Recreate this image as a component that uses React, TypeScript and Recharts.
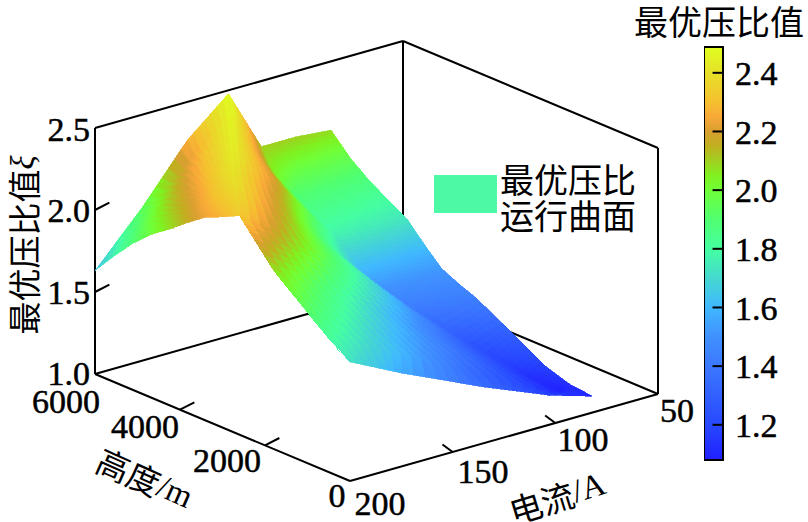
import { ReferenceArea, ReferenceDot, ReferenceLine, Scatter, ScatterChart, XAxis, YAxis } from "recharts"

// altitude rows (m), back to front
const heights = [6000, 5550, 5100, 4650, 4200, 3800, 3400, 3000, 2600, 1800, 1000, 500, 0]
// current (A) at each surface node, one row per altitude; column 3 is the crest, column 6 the trough
const currents = [
  [200, 177, 155, 135, 127, 119, 102, 85],
  [200, 180, 161, 143, 133, 125, 112, 85],
  [200, 183, 167, 152, 140, 130, 122, 85],
  [200, 187, 174, 161, 145, 133, 122, 85],
  [200, 190, 180, 170, 150, 137, 122, 85],
  [200, 193, 185, 178, 155, 139, 120, 85],
  [200, 195, 190, 185, 160, 140, 117, 85],
  [200, 197, 195, 192, 163, 138, 112, 85],
  [200, 200, 200, 200, 165, 137, 107, 85],
  [200, 200, 200, 200, 165, 130, 97, 84],
  [200, 200, 200, 200, 165, 130, 90, 84],
  [200, 200, 200, 200, 165, 130, 86, 83],
  [200, 200, 200, 200, 175, 135, 103, 82],
]
// optimal pressure ratio at the same nodes
const ratios = [
  [1.63, 1.935, 2.268, 2.48, 2.29, 2.1, 2.1, 2.08],
  [1.768, 2.01, 2.25, 2.47, 2.26, 2.07, 1.98, 1.96],
  [1.896, 2.1, 2.29, 2.46, 2.24, 2.04, 1.9, 1.87],
  [2.0, 2.15, 2.3, 2.45, 2.22, 2.02, 1.84, 1.8],
  [2.083, 2.2, 2.32, 2.44, 2.2, 2.0, 1.78, 1.73],
  [2.165, 2.25, 2.34, 2.42, 2.15, 1.92, 1.65, 1.62],
  [2.238, 2.29, 2.35, 2.4, 2.12, 1.85, 1.52, 1.52],
  [2.284, 2.31, 2.34, 2.37, 2.07, 1.78, 1.44, 1.47],
  [2.335, 2.335, 2.335, 2.335, 2.02, 1.72, 1.36, 1.43],
  [2.09, 2.09, 2.09, 2.09, 1.8, 1.5, 1.22, 1.3],
  [1.918, 1.918, 1.918, 1.918, 1.66, 1.42, 1.12, 1.18],
  [1.815, 1.815, 1.815, 1.815, 1.6, 1.35, 1.08, 1.125],
  [1.726, 1.726, 1.726, 1.726, 1.57, 1.344, 1.18, 1.1],
]

const colorLevels = [1.08, 1.2, 1.4, 1.5, 1.6, 1.7, 1.8, 1.9, 2.0, 2.05, 2.1, 2.15, 2.2, 2.25, 2.3, 2.4, 2.488]
const colorStops = [
  "#2020ff", "#2848ff", "#3b78ff", "#4090ff", "#40b8ff", "#45d8d0", "#45ffa0", "#50ff70", "#70ff38",
  "#80f020", "#a0d020", "#c0b020", "#d8a030", "#f8a838", "#f5c030", "#e6e028", "#e0ff20",
]
const barTicks = [1.2, 1.4, 1.6, 1.8, 2.0, 2.2, 2.4]
const ratioTicks = [1.5, 2.0]
const heightTicks = [2000, 4000]
const currentTicks = [100, 150]

const SERIF = "'Liberation Serif', serif"
const CJK = "'Noto Sans CJK SC', sans-serif"
const CELLS = 7

// oblique view of the box: front corner is 200 A, 0 m, ratio 1
function project(current: number, height: number, ratio: number) {
  const t = (200 - current) / 150
  const f = height / 6000
  return {
    x: 350 + 308 * t - 255 * f,
    y: 481 - 87 * t - 107 * f - 164 * (ratio - 1),
  }
}

function colorFor(v: number) {
  const hex = (s: string) => [1, 3, 5].map((i) => parseInt(s.slice(i, i + 2), 16))
  let i = 0
  while (i < colorLevels.length - 2 && v > colorLevels[i + 1]) i++
  const k = Math.min(1, Math.max(0, (v - colorLevels[i]) / (colorLevels[i + 1] - colorLevels[i])))
  const a = hex(colorStops[i])
  const b = hex(colorStops[i + 1])
  return `rgb(${a.map((c, n) => Math.round(c + (b[n] - c) * k)).join(",")})`
}

function buildPatches() {
  const patches: any[] = []
  const at = (r: number, c: number, u: number, v: number) => {
    const mix = (m: number[][]) =>
      (m[r][c] * (1 - u) + m[r][c + 1] * u) * (1 - v) + (m[r + 1][c] * (1 - u) + m[r + 1][c + 1] * u) * v
    const h = heights[r] * (1 - v) + heights[r + 1] * v
    return { current: mix(currents), height: h, ratio: mix(ratios) }
  }
  for (let r = 0; r < heights.length - 1; r++) {
    for (let c = 0; c < currents[0].length - 1; c++) {
      for (let i = 0; i < CELLS; i++) {
        for (let j = 0; j < CELLS; j++) {
          const nodes = [
            at(r, c, i / CELLS, j / CELLS),
            at(r, c, (i + 1) / CELLS, j / CELLS),
            at(r, c, (i + 1) / CELLS, (j + 1) / CELLS),
            at(r, c, i / CELLS, (j + 1) / CELLS),
          ]
          const corners = nodes.map((n) => project(n.current, n.height, n.ratio))
          const ratio = nodes.reduce((s, n) => s + n.ratio, 0) / 4
          const depth = nodes.reduce((s, n) => s + (200 - n.current) / 150 + n.height / 6000, 0)
          patches.push({ x: corners[0].x, y: corners[0].y, corners, color: colorFor(ratio), depth })
        }
      }
    }
  }
  return patches.sort((a, b) => b.depth - a.depth)
}

function SurfacePatch(props: any) {
  const { cx, cy, payload } = props
  const points = payload.corners.map((c: any) => `${c.x - payload.x + cx},${c.y - payload.y + cy}`).join(" ")
  return <polygon points={points} fill={payload.color} stroke={payload.color} strokeWidth={0.7} shapeRendering="crispEdges" />
}

function edge(a: { x: number; y: number }, b: { x: number; y: number }, key: string) {
  return <ReferenceLine key={key} segment={[a, b]} stroke="#000" strokeWidth={2} ifOverflow="visible" />
}

function label(text: any, x: number, y: number, opts: any = {}) {
  const { anchor = "middle", font = SERIF, size = 34, angle = 0 } = opts
  return (
    <ReferenceDot
      key={`${x}-${y}`}
      x={x}
      y={y}
      r={0}
      ifOverflow="visible"
      shape={(p: any) => (
        <text
          x={p.cx}
          y={p.cy}
          textAnchor={anchor}
          dominantBaseline="central"
          fontFamily={font}
          fontSize={size}
          fill="#000"
          stroke="#000"
          strokeWidth={font === SERIF ? 0.5 : 0}
          transform={angle ? `rotate(${angle} ${p.cx} ${p.cy})` : undefined}
        >
          {text}
        </text>
      )}
    />
  )
}

function Surface3D() {
  const back = [
    edge(project(200, 6000, 1), project(50, 6000, 1), "b1"),
    edge(project(50, 6000, 1), project(50, 0, 1), "b2"),
    edge(project(50, 6000, 1), project(50, 6000, 2.5), "b3"),
    edge(project(200, 6000, 2.5), project(50, 6000, 2.5), "b4"),
    edge(project(50, 6000, 2.5), project(50, 0, 2.5), "b5"),
    edge(project(50, 0, 1), project(50, 0, 2.5), "b6"),
  ]
  const front = [
    edge(project(200, 6000, 1), project(200, 6000, 2.5), "f1"),
    edge(project(200, 6000, 1), project(200, 0, 1), "f2"),
    edge(project(200, 0, 1), project(50, 0, 1), "f3"),
    ...ratioTicks.map((v) => edge(project(200, 6000, v), project(193, 6000, v + 0.02), `rt${v}`)),
    ...heightTicks.map((v) => edge(project(200, v, 1), project(193, v, 1.02), `ht${v}`)),
    ...currentTicks.map((v) => edge(project(v, 0, 1), project(v, 240, 1.02), `ct${v}`)),
    edge({ x: 551, y: 394 }, { x: 560, y: 394 }, "dash"),
  ]
  return (
    <ScatterChart width={808} height={522} margin={{ top: 0, right: 0, bottom: 0, left: 0 }}>
      <XAxis type="number" dataKey="x" domain={[0, 808]} hide />
      <YAxis type="number" dataKey="y" domain={[0, 522]} reversed hide />
      {back}
      <Scatter data={buildPatches()} shape={SurfacePatch} isAnimationActive={false} />
      {front}
      {label("2.5", 90, 129, { anchor: "end" })}
      {label("2.0", 90, 210, { anchor: "end" })}
      {label("1.5", 90, 292, { anchor: "end" })}
      {label("1.0", 90, 373, { anchor: "end" })}
      {label("6000", 66, 401)}
      {label("4000", 145, 426)}
      {label("2000", 227, 460)}
      {label("0", 337, 495)}
      {label("200", 380, 503)}
      {label("150", 483, 471)}
      {label("100", 583, 439)}
      {label("50", 677, 410)}
      {label(<>高度<tspan fontFamily={SERIF}>/m</tspan></>, 145, 478, { font: CJK, size: 33, angle: 24 })}
      {label(<>电流<tspan fontFamily={SERIF}>/A</tspan></>, 557, 497, { font: CJK, size: 33, angle: -17 })}
      {label(
        <>
          最优压比值<tspan fontFamily={SERIF} fontStyle="italic">ξ</tspan>
        </>,
        23,
        245,
        { font: CJK, size: 33, angle: -90 },
      )}
      <ReferenceArea x1={434} x2={497} y1={175} y2={213} fill="#4df9a5" fillOpacity={1} stroke="none" ifOverflow="visible" />
      {label("最优压比", 500, 178, { anchor: "start", font: CJK, size: 34 })}
      {label("运行曲面", 500, 214, { anchor: "start", font: CJK, size: 34 })}
      {label("最优压比值", 719, 20, { font: CJK, size: 34 })}
    </ScatterChart>
  )
}

function ColorBar() {
  const lo = colorLevels[0]
  const hi = colorLevels[colorLevels.length - 1]
  const anchors = barTicks.map((v) => ({ x: 0, y: v }))
  return (
    <ScatterChart width={104} height={430} margin={{ top: 7, right: 0, bottom: 10, left: 0 }}>
      <defs>
        <linearGradient id="ratioBar" x1="0" y1="1" x2="0" y2="0">
          {colorLevels.map((v, i) => (
            <stop key={v} offset={(v - lo) / (hi - lo)} stopColor={colorStops[i]} />
          ))}
        </linearGradient>
      </defs>
      <XAxis type="number" dataKey="x" domain={[0, 1]} hide />
      <YAxis
        type="number"
        dataKey="y"
        orientation="right"
        width={85}
        domain={[lo, hi]}
        ticks={barTicks}
        interval={0}
        tickFormatter={(v: number) => v.toFixed(1)}
        tick={{ fontSize: 34, fontFamily: SERIF, fill: "#000", stroke: "#000", strokeWidth: 0.5 }}
        tickLine={false}
        axisLine={false}
        tickMargin={6}
      />
      <Scatter data={anchors} shape={() => null} isAnimationActive={false} />
      <ReferenceArea x1={0} x2={1} y1={lo} y2={hi} fill="url(#ratioBar)" fillOpacity={1} stroke="#000" strokeWidth={2} />
      {barTicks.map((v) => (
        <ReferenceLine key={v} segment={[{ x: 0.45, y: v }, { x: 1, y: v }]} stroke="#000" strokeWidth={2} />
      ))}
    </ScatterChart>
  )
}

export default function App() {
  return (
    <div style={{ position: "absolute", left: 0, top: 0, width: 808, height: 522, background: "#fff" }}>
      <Surface3D />
      <div style={{ position: "absolute", left: 704, top: 40 }}>
        <ColorBar />
      </div>
    </div>
  )
}
